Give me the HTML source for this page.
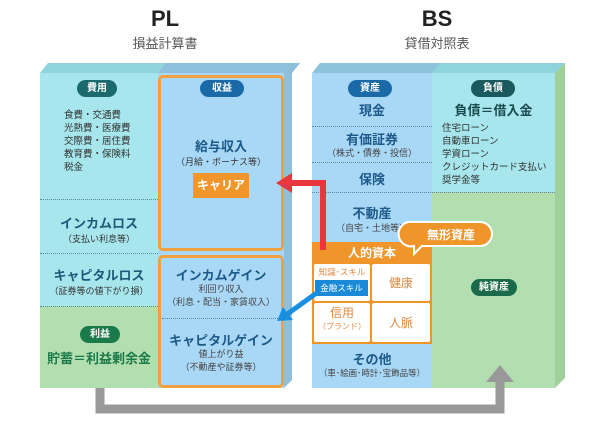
<!DOCTYPE html>
<html><head><meta charset="utf-8"><style>
*{margin:0;padding:0;box-sizing:border-box}
body{width:600px;height:426px;background:#fff;position:relative;overflow:hidden;font-family:"Liberation Sans","Noto Sans CJK JP",sans-serif}
.a{position:absolute}
.c{text-align:center}
.pill{position:absolute;border-radius:10px;color:#fff;font-size:10px;font-weight:bold;text-align:center;line-height:17px;height:17px}
.dot{position:absolute;border-top:1px dotted #5a8aa0;height:0}
</style></head><body>
<div class="a c" style="left:115px;top:6px;width:100px;font-size:22px;font-weight:bold;color:#222">PL</div>
<div class="a c" style="left:115px;top:33px;width:100px;font-size:13px;color:#555">損益計算書</div>
<div class="a c" style="left:387px;top:6px;width:100px;font-size:22px;font-weight:bold;color:#222">BS</div>
<div class="a c" style="left:387px;top:33px;width:100px;font-size:13px;color:#555">貸借対照表</div>

<svg class="a" style="left:0;top:0" width="600" height="426">
<polygon points="40,73 48,63 300,63 292,73" fill="#8fd4dc"/>
<polygon points="158,73 166,63 300,63 292,73" fill="#8ec0dc"/>
<polygon points="284,73 292,63 292,380 284,388" fill="#8ec0dc"/>
<polygon points="312,73 320,63 565,63 555,73" fill="#8cc4dc"/>
<polygon points="432,73 440,63 565,63 555,73" fill="#8fd4dc"/>
<polygon points="555,73 565,63 565,378 555,388" fill="#9fd09a"/>
</svg>

<!-- PL -->
<div class="a" style="left:40px;top:73px;width:244px;height:233px;background:#a6e6ec"></div>
<div class="a" style="left:40px;top:306px;width:244px;height:82px;background:#b2deb0"></div>
<div class="a" style="left:158px;top:73px;width:126px;height:315px;background:#a9d8f6"></div>
<div class="a" style="left:158px;top:75px;width:126px;height:176px;border:3px solid #f0a040;border-radius:5px"></div>
<div class="a" style="left:158px;top:255px;width:126px;height:133px;border:3px solid #f0a040;border-radius:5px"></div>
<div class="dot" style="left:40px;top:199px;width:118px"></div>
<div class="dot" style="left:40px;top:253px;width:118px"></div>
<div class="dot" style="left:40px;top:306px;width:118px"></div>
<div class="dot" style="left:162px;top:318px;width:118px"></div>
<div class="pill" style="left:77px;top:80px;width:40px;background:#1d6a6e">費用</div>
<div class="a" style="left:64px;top:109px;font-size:9.5px;line-height:13px;color:#333">食費・交通費<br>光熱費・医療費<br>交際費・居住費<br>教育費・保険料<br>税金</div>
<div class="a c" style="left:40px;top:213px;width:118px;font-size:13px;font-weight:bold;color:#1d5a7a">インカムロス</div>
<div class="a c" style="left:40px;top:232px;width:118px;font-size:9px;color:#333">（支払い利息等）</div>
<div class="a c" style="left:40px;top:265px;width:118px;font-size:13px;font-weight:bold;color:#1d5a7a">キャピタルロス</div>
<div class="a c" style="left:40px;top:284px;width:118px;font-size:9px;color:#333">（証券等の値下がり損）</div>
<div class="pill" style="left:80px;top:326px;width:40px;background:#1b7a4a">利益</div>
<div class="a c" style="left:40px;top:348px;width:118px;font-size:13px;font-weight:bold;color:#1b7a4a">貯蓄＝利益剰余金</div>
<div class="pill" style="left:200px;top:80px;width:44px;background:#1a6aa8">収益</div>
<div class="a c" style="left:158px;top:136px;width:126px;font-size:13px;font-weight:bold;color:#1d5a8a">給与収入</div>
<div class="a c" style="left:158px;top:155px;width:126px;font-size:9px;color:#333">（月給・ボーナス等）</div>
<div class="a c" style="left:193px;top:173px;width:56px;height:25px;background:#f0962a;color:#fff;font-size:12px;font-weight:bold;line-height:25px">キャリア</div>
<div class="a c" style="left:158px;top:265px;width:126px;font-size:13px;font-weight:bold;color:#1d5a8a">インカムゲイン</div>
<div class="a c" style="left:158px;top:283px;width:126px;font-size:9px;color:#444;line-height:13px">利回り収入<br>（利息・配当・家賃収入）</div>
<div class="a c" style="left:158px;top:330px;width:126px;font-size:13px;font-weight:bold;color:#1d5a8a">キャピタルゲイン</div>
<div class="a c" style="left:158px;top:348px;width:126px;font-size:9px;color:#444;line-height:13px">値上がり益<br>（不動産や証券等）</div>

<!-- BS -->
<div class="a" style="left:312px;top:73px;width:120px;height:315px;background:#a9d8f6"></div>
<div class="a" style="left:432px;top:73px;width:123px;height:119px;background:#a6e6ec"></div>
<div class="a" style="left:432px;top:192px;width:123px;height:196px;background:#b2deb0"></div>
<div class="dot" style="left:312px;top:126px;width:120px"></div>
<div class="dot" style="left:312px;top:162px;width:120px"></div>
<div class="dot" style="left:312px;top:192px;width:243px"></div>
<div class="pill" style="left:348px;top:80px;width:44px;background:#1a6aa8">資産</div>
<div class="a c" style="left:312px;top:100px;width:120px;font-size:13px;font-weight:bold;color:#1d5a8a">現金</div>
<div class="a c" style="left:312px;top:129px;width:120px;font-size:13px;font-weight:bold;color:#1d5a8a">有価証券</div>
<div class="a c" style="left:312px;top:146px;width:120px;font-size:9px;color:#444">（株式・債券・投信）</div>
<div class="a c" style="left:312px;top:169px;width:120px;font-size:13px;font-weight:bold;color:#1d5a8a">保険</div>
<div class="a c" style="left:312px;top:203px;width:120px;font-size:13px;font-weight:bold;color:#1d5a8a">不動産</div>
<div class="a c" style="left:312px;top:221px;width:120px;font-size:9px;color:#444">（自宅・土地等）</div>
<div class="pill" style="left:471px;top:80px;width:44px;background:#1a5a5e">負債</div>
<div class="a c" style="left:432px;top:100px;width:123px;font-size:13px;font-weight:bold;color:#1a4a50">負債＝借入金</div>
<div class="a" style="left:442px;top:122px;font-size:9.5px;line-height:13px;color:#333">住宅ローン<br>自動車ローン<br>学資ローン<br>クレジットカード支払い<br>奨学金等</div>
<div class="pill" style="left:471px;top:279px;width:46px;background:#1b6a4a">純資産</div>
<div class="a" style="left:312px;top:242px;width:120px;height:102px;background:#f0952a"></div>
<div class="a c" style="left:312px;top:244px;width:120px;font-size:12px;font-weight:bold;color:#fff">人的資本</div>
<div class="a" style="left:314px;top:264px;width:56px;height:37px;background:#fff;border-radius:2px"></div>
<div class="a" style="left:372px;top:264px;width:58px;height:37px;background:#fff;border-radius:2px"></div>
<div class="a" style="left:314px;top:303px;width:56px;height:39px;background:#fff;border-radius:2px"></div>
<div class="a" style="left:372px;top:303px;width:58px;height:39px;background:#fff;border-radius:2px"></div>
<div class="a c" style="left:314px;top:266px;width:56px;font-size:8.5px;color:#e08a40">知識･スキル</div>
<div class="a c" style="left:315px;top:280px;width:53px;height:16px;background:#1a8ad8;color:#fff;font-size:8.5px;line-height:16px">金融スキル</div>
<div class="a c" style="left:372px;top:274px;width:58px;font-size:12px;color:#e08a40">健康</div>
<div class="a c" style="left:314px;top:306px;width:56px;font-size:12px;color:#e08a40;line-height:14px">信用</div>
<div class="a c" style="left:314px;top:321px;width:56px;font-size:8px;color:#e08a40">（ブランド）</div>
<div class="a c" style="left:372px;top:314px;width:58px;font-size:12px;color:#e08a40">人脈</div>
<div class="a c" style="left:312px;top:349px;width:120px;font-size:13px;font-weight:bold;color:#1d5a8a">その他</div>
<div class="a c" style="left:312px;top:367px;width:120px;font-size:8.5px;color:#444">（車･絵画･時計･宝飾品等）</div>

<svg class="a" style="left:0;top:0" width="600" height="426">
<polyline points="100,388 100,409 500,409 500,378" fill="none" stroke="#999" stroke-width="9"/>
<polygon points="486,382 500,365 514,382" fill="#999"/>
<polyline points="323,250 323,183 288,183" fill="none" stroke="#e8383e" stroke-width="6"/>
<polygon points="276,183 292,173 292,193" fill="#e8383e"/>
<line x1="318" y1="292" x2="286" y2="315" stroke="#1a8ee0" stroke-width="5"/>
<polygon points="277,321 283,307 293,320" fill="#1a8ee0"/>
<path d="M420,222 h60 a12,12 0 0 1 0,24 h-58 l-8,8 l0,-8 a12,12 0 0 1 -6,-24 z" fill="#f0952a" stroke="#fff" stroke-width="2"/>
<text x="451" y="239" text-anchor="middle" font-size="12" font-weight="bold" fill="#fff" font-family="Liberation Sans, Noto Sans CJK JP, sans-serif">無形資産</text>
</svg>
</body></html>
